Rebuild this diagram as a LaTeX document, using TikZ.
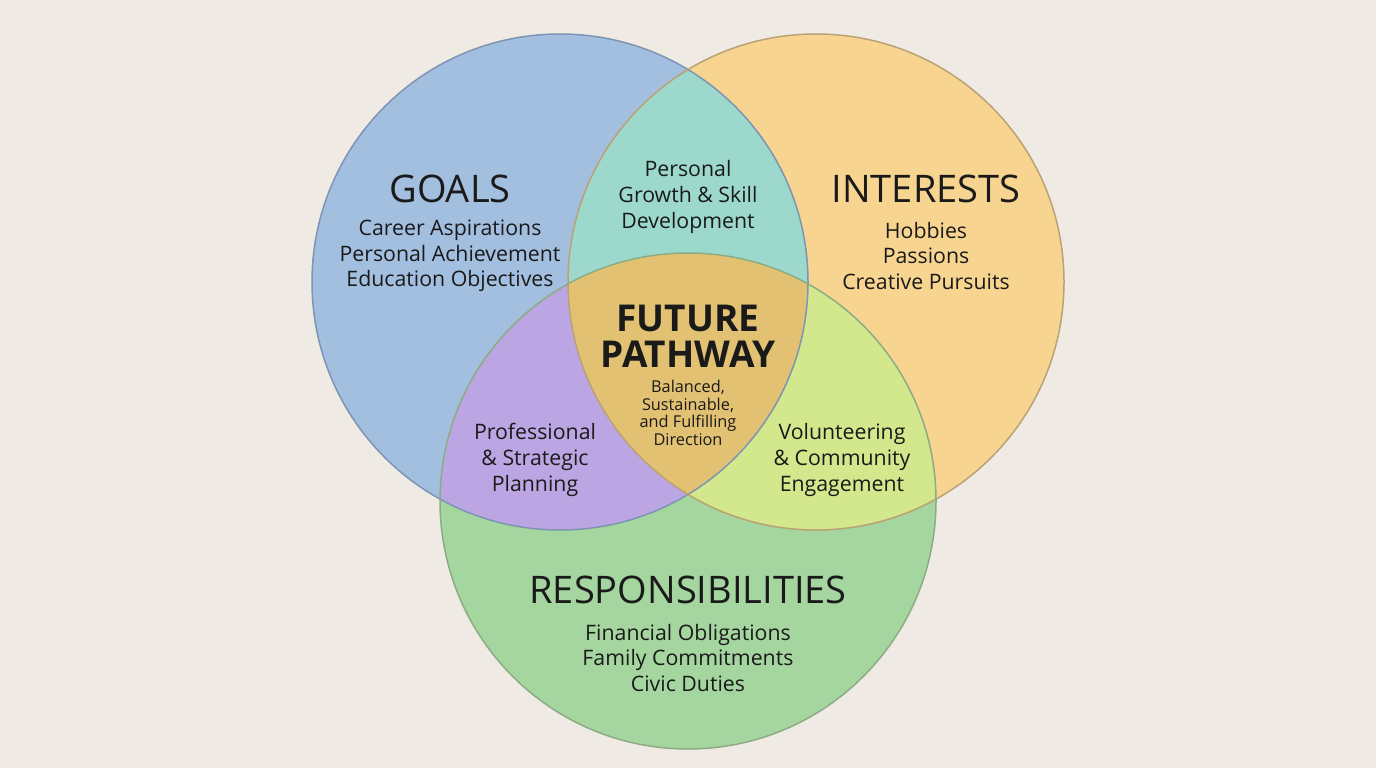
\documentclass[tikz,border=0pt]{standalone}
\usepackage{fontspec}
\setmainfont{Open Sans}
\definecolor{bg}{HTML}{EFEBE4}
\definecolor{cgoal}{HTML}{A3BFE0}
\definecolor{cint}{HTML}{F7D590}
\definecolor{cres}{HTML}{A5D6A0}
\definecolor{cgi}{HTML}{9DD8CC}
\definecolor{cgr}{HTML}{BBA5E2}
\definecolor{cir}{HTML}{D3E78C}
\definecolor{cctr}{HTML}{E2C272}
\definecolor{lgoal}{HTML}{7D95B3}
\definecolor{lint}{HTML}{BBA274}
\definecolor{lres}{HTML}{8CAC84}
\definecolor{txt}{HTML}{1A1A1A}
\tikzset{
  title/.style={font=\fontsize{38}{42}\selectfont, text=txt, inner sep=0pt},
  items/.style={font=\fontsize{21.3}{25.7}\selectfont, text=txt, align=center, inner sep=0pt},
  ctitle/.style={font=\bfseries\fontsize{37}{36}\selectfont, text=txt, align=center, inner sep=0pt},
  small/.style={font=\fontsize{16.3}{17.7}\selectfont, text=txt, align=center, inner sep=0pt},
}
\begin{document}
\begin{tikzpicture}[x=1pt,y=-1pt]
\fill[bg] (0,0) rectangle (1376,768);
\useasboundingbox (0,0) rectangle (1376,768);
\def\R{248}
\coordinate (G) at (560,282);
\coordinate (I) at (816,282);
\coordinate (S) at (688,501);
% base fills
\fill[cgoal] (G) circle (\R);
\fill[cint] (I) circle (\R);
\fill[cres] (S) circle (\R);
\begin{scope}\clip (G) circle (\R); \fill[cgi] (I) circle (\R); \end{scope}
\begin{scope}\clip (G) circle (\R); \fill[cgr] (S) circle (\R); \end{scope}
\begin{scope}\clip (I) circle (\R); \fill[cir] (S) circle (\R); \end{scope}
\begin{scope}\clip (G) circle (\R); \clip (I) circle (\R); \fill[cctr] (S) circle (\R); \end{scope}
% outlines
\draw[lgoal, line width=1.5pt] (G) circle (\R);
\draw[lint, line width=1.5pt] (I) circle (\R);
\draw[lres, line width=1.5pt] (S) circle (\R);
% texts
\node[title] (tg) at (450,189) {GOALS};
\node[items] (ig) at (450,256) {Career Aspirations\\Personal Achievement\\Education Objectives};
\node[title] (ti) at (926,189) {INTERESTS};
\node[items] (ii) at (926,256) {Hobbies\\Passions\\Creative Pursuits};
\node[title] (tr) at (688,590) {RESPONSIBILITIES};
\node[items] (ir) at (688,658) {Financial Obligations\\Family Commitments\\Civic Duties};
\node[items] (gi) at (688,197) {Personal\\Growth \& Skill\\Development};
\node[items] (gr) at (535,460) {Professional\\\& Strategic\\Planning};
\node[items] (ir2) at (842,460) {Volunteering\\\& Community\\Engagement};
\node[ctitle] (ct) at (688,336) {FUTURE\\PATHWAY};
\node[small] (cs) at (688,413) {Balanced,\\Sustainable,\\and Fulfilling\\Direction};
\end{tikzpicture}
\end{document}
